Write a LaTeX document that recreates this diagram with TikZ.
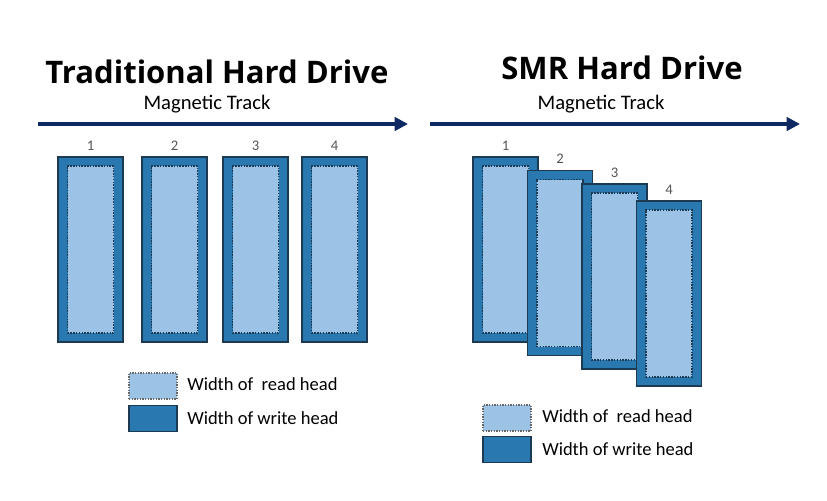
\documentclass[tikz,border=0pt]{standalone}
\usepackage{fontspec}
\setmainfont{Carlito}
\newfontfamily\titlefont{Open Sans}
\usepackage{tikz}
\usetikzlibrary{arrows.meta, positioning}

\definecolor{writeblue}{HTML}{2979B0}
\definecolor{readblue}{HTML}{9CC3E6}
\definecolor{edgedark}{HTML}{1C3A52}
\definecolor{tracknavy}{HTML}{0E2862}
\definecolor{numgray}{HTML}{555555}

\begin{document}
\begin{tikzpicture}[x=0.75pt, y=-0.75pt]
    \tikzstyle{writehead}=[shape=rectangle, fill=writeblue, draw=edgedark, line width=0.8pt, minimum width=48.75pt, minimum height=138.75pt, inner sep=0pt]
    \tikzstyle{readhead}=[shape=rectangle, fill=readblue, draw=edgedark, densely dotted, line width=1.1pt, minimum width=34.5pt, minimum height=125.25pt, inner sep=0pt]
    \tikzstyle{num}=[font=\fontsize{11}{13}\selectfont, text=numgray, label distance=1pt]
    \tikzstyle{legread}=[shape=rectangle, fill=readblue, draw=gray!80!black, densely dotted, line width=1pt, minimum width=36pt, minimum height=19.5pt, inner sep=0pt]
    \tikzstyle{legwrite}=[shape=rectangle, fill=writeblue, draw=edgedark, line width=0.8pt, minimum width=36pt, minimum height=19.5pt, inner sep=0pt]
    \tikzstyle{legtext}=[anchor=west, inner sep=0pt, font=\fontsize{13.9}{16}\selectfont]
    \tikzstyle{title}=[font=\titlefont\bfseries\fontsize{23.3}{27}\selectfont]
    \tikzstyle{track}=[font=\fontsize{15.5}{18}\selectfont]
    \tikzstyle{trackarrow}=[draw=tracknavy, line width=3pt, -{Triangle[length=10pt,width=10pt]}]

    \useasboundingbox (0,0) rectangle (827,500);

    % traditional drive
    \node[title] (tradtitle) at (217,72) {Traditional Hard Drive};
    \node[track] (tradtrack) at (207,104) {Magnetic Track};
    \coordinate (tradstart) at (38,124);
    \coordinate (tradend) at (408,124);
    \draw[trackarrow] (tradstart) -- (tradend);

    \node[writehead, label={[num]above:1}] (tw1) at (90.5,249.5) {};
    \node[readhead] (tr1) at (90.5,249.5) {};
    \node[writehead, label={[num]above:2}] (tw2) at (174.5,249.5) {};
    \node[readhead] (tr2) at (174.5,249.5) {};
    \node[writehead, label={[num]above:3}] (tw3) at (255.5,249.5) {};
    \node[readhead] (tr3) at (255.5,249.5) {};
    \node[writehead, label={[num]above:4}] (tw4) at (334.5,249.5) {};
    \node[readhead] (tr4) at (334.5,249.5) {};

    \node[legread] (tlr) at (153,386) {};
    \node[legwrite] (tlw) at (153,418.5) {};
    \node[legtext] (tlrtext) at (187,384) {Width of \ read head};
    \node[legtext] (tlwtext) at (187,418) {Width of write head};

    % SMR drive
    \node[title] (smrtitle) at (622,68) {SMR Hard Drive};
    \node[track] (smrtrack) at (601,104) {Magnetic Track};
    \coordinate (smrstart) at (430,124);
    \coordinate (smrend) at (800,124);
    \draw[trackarrow] (smrstart) -- (smrend);

    \node[writehead, label={[num]above:1}] (sw1) at (505.5,249.5) {};
    \node[readhead] (sr1) at (505.5,249.5) {};
    \node[writehead, label={[num]above:2}] (sw2) at (560,263) {};
    \node[readhead] (sr2) at (560,263) {};
    \node[writehead, label={[num]above:3}] (sw3) at (614.5,276.5) {};
    \node[readhead] (sr3) at (614.5,276.5) {};
    \node[writehead, label={[num]above:4}] (sw4) at (669,293.5) {};
    \node[readhead] (sr4) at (669,293.5) {};

    \node[legread] (slr) at (507,418) {};
    \node[legwrite] (slw) at (507,449.5) {};
    \node[legtext] (slrtext) at (542,416) {Width of \ read head};
    \node[legtext] (slwtext) at (542,449) {Width of write head};
\end{tikzpicture}
\end{document}
